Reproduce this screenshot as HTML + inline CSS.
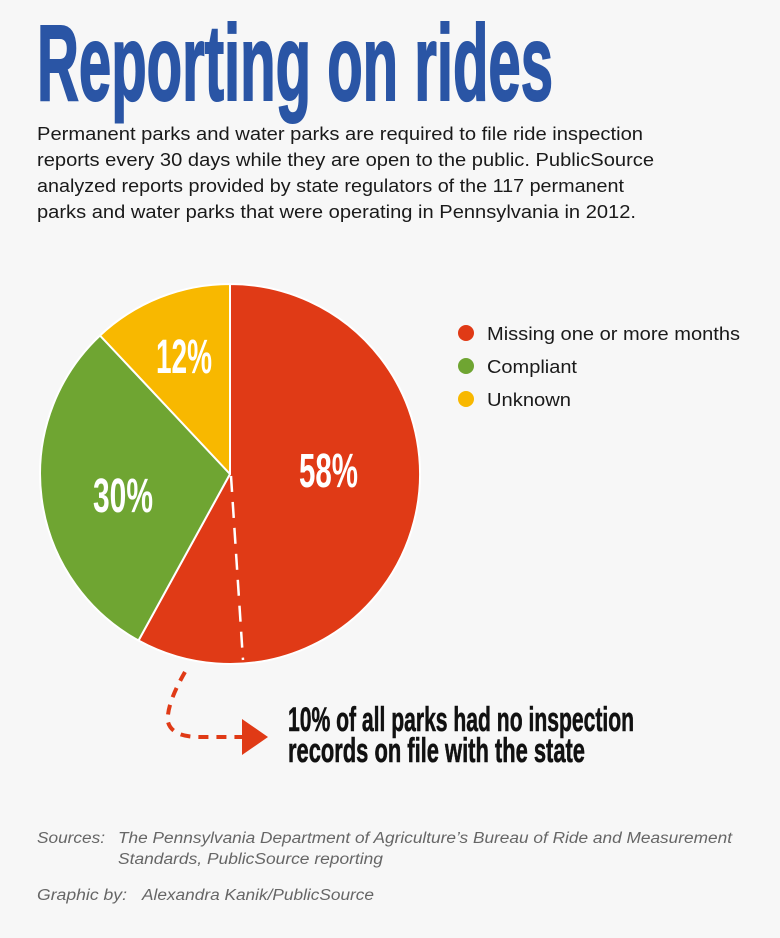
<!DOCTYPE html>
<html><head><meta charset="utf-8"><style>
html,body{margin:0;padding:0;background:#f7f7f7;}
svg{display:block}
</style></head><body>
<svg width="780" height="938" viewBox="0 0 780 938" xmlns="http://www.w3.org/2000/svg" font-family="Liberation Sans, sans-serif">
<rect width="780" height="938" fill="#f7f7f7"/>
<text x="37" y="100" font-size="108" font-weight="bold" fill="#2a55a5" stroke="#2a55a5" stroke-width="2" textLength="516" lengthAdjust="spacingAndGlyphs">Reporting on rides</text>
<g font-size="18.5" fill="#1a1a1a">
<text x="37" y="140" textLength="606" lengthAdjust="spacingAndGlyphs">Permanent parks and water parks are required to file ride inspection</text>
<text x="37" y="166" textLength="617" lengthAdjust="spacingAndGlyphs">reports every 30 days while they are open to the public. PublicSource</text>
<text x="37" y="192" textLength="587" lengthAdjust="spacingAndGlyphs">analyzed reports provided by state regulators of the 117 permanent</text>
<text x="37" y="218" textLength="599" lengthAdjust="spacingAndGlyphs">parks and water parks that were operating in Pennsylvania in 2012.</text>
</g>
<g stroke="#fff" stroke-width="2" stroke-linejoin="round">
<path d="M230,474 L230,284 A190,190 0 1 1 138.5,640.5 Z" fill="#e03a16"/>
<path d="M230,474 L138.5,640.5 A190,190 0 0 1 100,335.5 Z" fill="#6fa532"/>
<path d="M230,474 L100,335.5 A190,190 0 0 1 230,284 Z" fill="#f8b800"/>
</g>
<path d="M231,476 L243,660" stroke="#fff" stroke-width="2.5" stroke-dasharray="16,10" fill="none"/>
<g font-weight="bold" fill="#fff" font-size="48">
<text x="299" y="487" textLength="59" lengthAdjust="spacingAndGlyphs">58%</text>
<text x="93" y="512" textLength="60" lengthAdjust="spacingAndGlyphs">30%</text>
<text x="156" y="373" textLength="56" lengthAdjust="spacingAndGlyphs">12%</text>
</g>
<circle cx="466" cy="333" r="8" fill="#e03a16"/>
<circle cx="466" cy="366" r="8" fill="#6fa532"/>
<circle cx="466" cy="399" r="8" fill="#f8b800"/>
<g font-size="18.5" fill="#1a1a1a">
<text x="487" y="340" textLength="253" lengthAdjust="spacingAndGlyphs">Missing one or more months</text>
<text x="487" y="373" textLength="90" lengthAdjust="spacingAndGlyphs">Compliant</text>
<text x="487" y="406" textLength="84" lengthAdjust="spacingAndGlyphs">Unknown</text>
</g>
<path d="M185,672 Q166,705 168,722 Q172,737 200,737 L242,737" stroke="#e03a16" stroke-width="4" stroke-dasharray="10,8" fill="none"/>
<path d="M242,719 L268,737 L242,755 Z" fill="#e03a16"/>
<g font-weight="bold" fill="#111" stroke="#111" stroke-width="0.6" font-size="34">
<text x="288" y="731" textLength="346" lengthAdjust="spacingAndGlyphs">10% of all parks had no inspection</text>
<text x="288" y="762" textLength="297" lengthAdjust="spacingAndGlyphs">records on file with the state</text>
</g>
<g font-size="15.5" font-style="italic" fill="#666">
<text x="37" y="843" textLength="68" lengthAdjust="spacingAndGlyphs">Sources:</text>
<text x="118" y="843" textLength="614" lengthAdjust="spacingAndGlyphs">The Pennsylvania Department of Agriculture’s Bureau of Ride and Measurement</text>
<text x="118" y="864" textLength="265" lengthAdjust="spacingAndGlyphs">Standards, PublicSource reporting</text>
<text x="37" y="900" textLength="90" lengthAdjust="spacingAndGlyphs">Graphic by:</text>
<text x="142" y="900" textLength="232" lengthAdjust="spacingAndGlyphs">Alexandra Kanik/PublicSource</text>
</g>
</svg>
</body></html>
